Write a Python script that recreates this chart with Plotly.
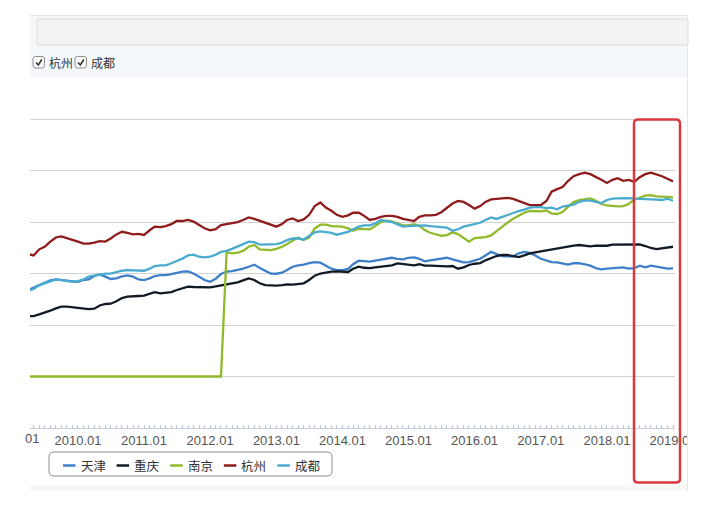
import pandas as pd
import plotly.graph_objects as go

# ---------------- data ----------------
start_month = "2009-04-01"
n_months = 118  # 2009.04 .. 2019.01
months = pd.date_range(start_month, periods=n_months, freq="MS")

series_names = ["天津", "重庆", "南京", "杭州", "成都"]
series_colors = ["#3f7fc8", "#111b26", "#8fba2c", "#8e1c1c", "#4aabd0"]

tianjin = [13.4, 13.6, 13.88, 14.1, 14.34, 14.43, 14.37, 14.34, 14.24,
           14.2, 14.37, 14.43, 14.76, 14.92, 14.7, 14.47, 14.53, 14.72, 14.82, 14.7, 14.43,
           14.37, 14.53, 14.76, 14.85, 14.85, 14.95, 15.08, 15.18, 15.2, 15.0, 14.7, 14.37,
           14.2, 14.5, 14.95, 15.18, 15.24, 15.34, 15.47, 15.66, 15.86, 15.53, 15.27, 15.0,
           14.98, 15.08, 15.34, 15.66, 15.8, 15.86, 16.0, 16.1, 16.05, 15.76, 15.47, 15.34,
           15.34, 15.44, 15.9, 16.25, 16.18, 16.15, 16.25, 16.34, 16.5, 16.53, 16.43, 16.37,
           16.53, 16.57, 16.43, 16.18, 16.28, 16.34, 16.4, 16.53, 16.37, 16.21, 16.08, 16.1,
           16.28, 16.43, 16.76, 17.1, 16.9, 16.7, 16.67, 16.67, 16.96, 17.1, 17.0, 16.76,
           16.43, 16.25, 16.1, 16.08, 15.95, 15.86, 16.0, 16.0, 15.9, 15.76, 15.53, 15.4,
           15.47, 15.53, 15.6, 15.6, 15.47, 15.53, 15.76, 15.6, 15.76, 15.66, 15.56, 15.47,
           15.5]

chongqing = [10.87, 10.87, 11.04, 11.2, 11.39, 11.62, 11.78, 11.78, 11.72,
             11.68, 11.62, 11.55, 11.59, 11.9, 12.04, 12.07, 12.3, 12.62, 12.75, 12.82, 12.82,
             12.85, 13.07, 13.2, 13.07, 13.14, 13.2, 13.4, 13.56, 13.72, 13.69, 13.66, 13.62,
             13.66, 13.75, 13.88, 13.95, 14.05, 14.14, 14.34, 14.53, 14.37, 14.05, 13.88, 13.82,
             13.82, 13.88, 13.95, 13.92, 13.95, 14.05, 14.37, 14.79, 15.0, 15.11, 15.18, 15.21,
             15.18, 15.15, 15.47, 15.66, 15.56, 15.53, 15.6, 15.66, 15.73, 15.8, 15.99, 15.92,
             15.8, 15.8, 15.9, 15.76, 15.76, 15.73, 15.7, 15.7, 15.73, 15.47, 15.6, 15.83,
             15.95, 16.02, 16.28, 16.5, 16.7, 16.8, 16.8, 16.7, 16.6, 16.76, 16.96, 17.05,
             17.15, 17.28, 17.35, 17.41, 17.5, 17.64, 17.7, 17.77, 17.67, 17.64, 17.7, 17.67,
             17.7, 17.8, 17.8, 17.77, 17.83, 17.8, 17.83, 17.67, 17.48, 17.38, 17.44, 17.54,
             17.6]

nanjing = [5.0, 5.0, 5.0, 5.0, 5.0, 5.0, 5.0, 5.0, 5.0,
           5.0, 5.0, 5.0, 5.0, 5.0, 5.0, 5.0, 5.0, 5.0, 5.0, 5.0, 5.0,
           5.0, 5.0, 5.0, 5.0, 5.0, 5.0, 5.0, 5.0, 5.0, 5.0, 5.0, 5.0,
           5.0, 5.0, 5.0, 17.05, 16.96, 17.02, 17.2, 17.6, 17.77, 17.35, 17.28, 17.28,
           17.4, 17.6, 17.86, 18.19, 18.5, 18.25, 18.5, 19.38, 19.74, 19.74, 19.6, 19.58,
           19.55, 19.38, 19.16, 19.35, 19.29, 19.29, 19.6, 20.0, 20.13, 20.06, 19.87, 19.68,
           19.68, 19.8, 19.64, 19.22, 18.96, 18.83, 18.67, 18.74, 19.0, 18.83, 18.45, 18.1,
           18.45, 18.51, 18.54, 18.7, 19.13, 19.55, 19.94, 20.32, 20.6, 20.9, 21.07, 21.07,
           21.04, 21.13, 20.84, 20.78, 20.97, 21.49, 21.94, 22.14, 22.23, 22.3, 22.07, 21.75,
           21.62, 21.55, 21.52, 21.55, 21.75, 22.17, 22.4, 22.56, 22.62, 22.49, 22.46, 22.46,
           22.4]

hangzhou = [16.9, 16.76, 17.35, 17.6, 18.1, 18.5, 18.6, 18.45, 18.3,
            18.1, 17.9, 17.9, 18.0, 18.15, 18.1, 18.4, 18.8, 19.05, 18.95, 18.8, 18.85,
            18.75, 19.2, 19.55, 19.5, 19.6, 19.8, 20.1, 20.1, 20.2, 20.05, 19.75, 19.4,
            19.2, 19.3, 19.7, 19.8, 19.85, 20.0, 20.2, 20.45, 20.3, 20.1, 19.95, 19.7,
            19.55, 19.8, 20.2, 20.35, 20.1, 20.25, 20.7, 21.55, 21.9, 21.4, 21.1, 20.7,
            20.5, 20.65, 20.9, 20.9, 20.6, 20.2, 20.3, 20.5, 20.6, 20.6, 20.5, 20.3,
            20.2, 20.1, 20.5, 20.65, 20.65, 20.7, 20.95, 21.4, 21.8, 22.05, 21.95, 21.65,
            21.3, 21.55, 21.95, 22.2, 22.25, 22.3, 22.35, 22.25, 22.05, 21.9, 21.65, 21.65,
            21.65, 22.05, 22.95, 23.2, 23.4, 24.0, 24.45, 24.65, 24.8, 24.65, 24.4, 24.1,
            23.8, 24.1, 24.25, 24.0, 24.1, 23.9, 24.35, 24.65, 24.8, 24.65, 24.45, 24.2,
            23.95]

chengdu = [13.33, 13.5, 13.85, 14.05, 14.27, 14.43, 14.37, 14.3, 14.2,
           14.27, 14.43, 14.7, 14.82, 14.95, 15.0, 15.0, 15.15, 15.27, 15.34, 15.34, 15.27,
           15.27, 15.47, 15.73, 15.8, 15.8, 16.0, 16.2, 16.45, 16.76, 16.83, 16.63, 16.57,
           16.63, 16.83, 17.1, 17.2, 17.4, 17.6, 17.86, 18.1, 18.05, 17.8, 17.8, 17.8,
           17.86, 18.0, 18.25, 18.4, 18.4, 18.3, 18.65, 19.0, 19.1, 19.05, 18.95, 18.77,
           18.9, 19.05, 19.3, 19.55, 19.67, 19.67, 19.87, 20.2, 20.1, 20.0, 19.77, 19.55,
           19.6, 19.64, 19.7, 19.67, 19.6, 19.58, 19.5, 19.45, 19.16, 19.3, 19.55, 19.67,
           19.77, 19.93, 20.2, 20.45, 20.3, 20.5, 20.7, 20.9, 21.07, 21.2, 21.4, 21.45,
           21.45, 21.36, 21.4, 21.23, 21.5, 21.6, 21.7, 21.97, 22.07, 22.07, 21.94, 21.84,
           22.14, 22.27, 22.3, 22.33, 22.33, 22.27, 22.27, 22.27, 22.2, 22.17, 22.14, 22.27,
           22.07]

series_values = [tianjin, chongqing, nanjing, hangzhou, chengdu]
checkbox_labels = ["杭州", "成都"]

# ---------------- layout geometry (pixels) ----------------
W, H = 716, 511
PL, PR, PT, PB = 30, 675, 117, 428
Y_TOP = 30.2  # axis max slightly above the top gridline (30) so it is drawn

def X(px):
    return (px - PL) / (PR - PL)

def Y(py):
    return (PB - py) / (PB - PT)

def rounded_path(x0, y0, x1, y1, r):
    return (f"M{X(x0 + r)},{Y(y0)} L{X(x1 - r)},{Y(y0)} Q{X(x1)},{Y(y0)} {X(x1)},{Y(y0 + r)} "
            f"L{X(x1)},{Y(y1 - r)} Q{X(x1)},{Y(y1)} {X(x1 - r)},{Y(y1)} "
            f"L{X(x0 + r)},{Y(y1)} Q{X(x0)},{Y(y1)} {X(x0)},{Y(y1 - r)} "
            f"L{X(x0)},{Y(y0 + r)} Q{X(x0)},{Y(y0)} {X(x0 + r)},{Y(y0)} Z")

fig = go.Figure()
for name, color, vals in zip(series_names, series_colors, series_values):
    fig.add_trace(go.Scatter(x=months, y=vals, mode="lines", name=name,
                             line=dict(color=color, width=2.3), showlegend=False,
                             hoverinfo="skip"))

CJK = "Noto Sans CJK SC"
NUM = "Liberation Sans Narrow, Arial Narrow, Liberation Sans, sans-serif"

shapes = []
annotations = []

# top toolbar panel
shapes.append(dict(type="rect", xref="paper", yref="paper", layer="below",
                   x0=X(30), x1=X(688), y0=Y(15), y1=Y(46),
                   fillcolor="#f7f7f7", line=dict(width=0)))
shapes.append(dict(type="line", xref="paper", yref="paper", layer="below",
                   x0=X(30), x1=X(688), y0=Y(15.5), y1=Y(15.5),
                   line=dict(color="#e4e4e4", width=1)))
shapes.append(dict(type="rect", xref="paper", yref="paper", layer="below",
                   x0=X(37), x1=X(688), y0=Y(19), y1=Y(45),
                   fillcolor="#f3f3f3", line=dict(color="#dedede", width=1)))
# checkbox row band
shapes.append(dict(type="rect", xref="paper", yref="paper", layer="below",
                   x0=X(30), x1=X(687), y0=Y(46), y1=Y(77),
                   fillcolor="#f4f8fc", line=dict(width=0)))
# checkboxes
for i, lab in enumerate(checkbox_labels):
    bx = 33 + i * 42
    shapes.append(dict(type="path", xref="paper", yref="paper", layer="above",
                       path=rounded_path(bx, 56.5, bx + 11.5, 68, 2.5),
                       fillcolor="#fbfbfb", line=dict(color="#8c8c8c", width=1)))
    shapes.append(dict(type="path", xref="paper", yref="paper", layer="above",
                       path=f"M{X(bx + 3)},{Y(62.5)} L{X(bx + 5.3)},{Y(65)} L{X(bx + 8.8)},{Y(59.5)}",
                       line=dict(color="#333333", width=1.5)))
    annotations.append(dict(xref="paper", yref="paper", x=X(bx + 14), y=Y(62.5),
                            text=lab, showarrow=False, xanchor="left", yanchor="middle",
                            font=dict(family=CJK, size=12, color="#333333")))

# container right border
shapes.append(dict(type="line", xref="paper", yref="paper", layer="above",
                   x0=X(687.5), x1=X(687.5), y0=Y(15), y1=Y(491),
                   line=dict(color="#e6e6e6", width=1)))
# clip overflow right of container (covers tail of last tick label)
shapes.append(dict(type="rect", xref="paper", yref="paper", layer="above",
                   x0=X(688), x1=X(716), y0=Y(425), y1=Y(452),
                   fillcolor="#ffffff", line=dict(width=0)))
# bottom faint band
shapes.append(dict(type="rect", xref="paper", yref="paper", layer="below",
                   x0=X(30), x1=X(687), y0=Y(485), y1=Y(491),
                   fillcolor="#f8f8f8", line=dict(width=0)))

# custom legend box
shapes.append(dict(type="path", xref="paper", yref="paper", layer="above",
                   path=rounded_path(49, 452, 332, 476, 5),
                   fillcolor="rgba(255,255,255,0)", line=dict(color="#8f8f8f", width=1)))
for i, (name, color) in enumerate(zip(series_names, series_colors)):
    sx = 63 + i * 53.6
    shapes.append(dict(type="line", xref="paper", yref="paper", layer="above",
                       x0=X(sx), x1=X(sx + 12.5), y0=Y(465.5), y1=Y(465.5),
                       line=dict(color=color, width=2.5)))
    annotations.append(dict(xref="paper", yref="paper", x=X(sx + 15.5), y=Y(465),
                            text=name, showarrow=False, xanchor="left", yanchor="middle",
                            font=dict(family=CJK, size=12.5, color="#333333")))

# highlight box (red rounded rectangle)
shapes.append(dict(type="path", xref="paper", yref="paper", layer="above",
                   path=rounded_path(634, 119.5, 680, 482.5, 4),
                   line=dict(color="#d9393e", width=2.5)))

# clipped first tick label fragment at the left edge
annotations.append(dict(xref="paper", yref="paper", x=X(40.5), y=Y(438.5),
                        text="01", showarrow=False, xanchor="right", yanchor="middle",
                        font=dict(family=NUM, size=13, color="#555555")))

fig.update_layout(
    width=W, height=H,
    margin=dict(l=PL, r=W - PR, t=PT, b=H - PB, pad=0),
    paper_bgcolor="#ffffff", plot_bgcolor="#ffffff",
    showlegend=False,
    shapes=shapes, annotations=annotations,
    xaxis=dict(type="date", range=["2009-04-11", "2019-01-12"],
               tick0="2010-01-01", dtick="M12", tickformat="%Y.%m",
               ticks="inside", ticklen=3, tickcolor="#b8c6d6", tickwidth=1,
               showline=True, linecolor="#c4d0de", linewidth=1,
               showgrid=False, zeroline=False,
               tickfont=dict(family=NUM, size=13, color="#555555"),
               minor=dict(dtick="M1", tick0="2010-01-01", ticks="inside", ticklen=3,
                          tickcolor="#b8c6d6", tickwidth=1, showgrid=False),
               fixedrange=True),
    yaxis=dict(range=[0, Y_TOP], dtick=5, tick0=0, showticklabels=False, ticks="",
               showgrid=True, gridcolor="#d2d2d2", gridwidth=1,
               zeroline=False, showline=False, fixedrange=True),
)

fig.write_html("out.html", config={"displayModeBar": False})
